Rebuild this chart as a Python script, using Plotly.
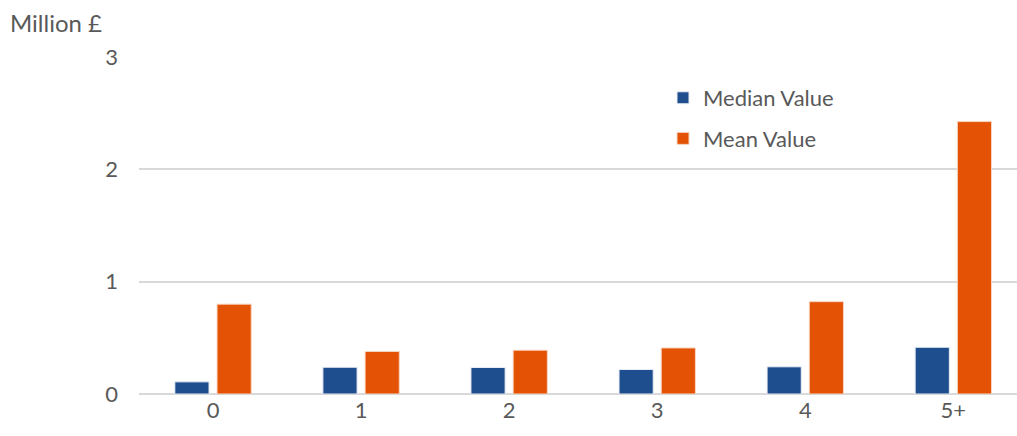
import plotly.graph_objects as go

categories = ["0", "1", "2", "3", "4", "5+"]
median_values = [0.108, 0.238, 0.236, 0.218, 0.242, 0.416]
mean_values = [0.80, 0.378, 0.39, 0.41, 0.822, 2.425]
y_ticks = [0, 1, 2, 3]
y_tick_labels = ["0", "1", "2", "3"]

FONT = "Lato"
TEXT = "#595959"

fig = go.Figure()
fig.add_trace(go.Bar(
    x=categories, y=median_values, name="Median Value",
    marker=dict(color="#1F4E8F", line=dict(color="#E8ECF3", width=1)),
    legendgroup="a",
))
fig.add_trace(go.Bar(
    x=categories, y=mean_values, name="Mean Value",
    marker=dict(color="#E35205", line=dict(color="#F8D6C3", width=1)),
    legendgroup="b",
))

fig.update_layout(
    width=1017, height=436,
    margin=dict(l=139, r=0, t=57, b=41.5),
    paper_bgcolor="white", plot_bgcolor="white",
    barmode="group", bargap=0.43, bargroupgap=0.19,
    font=dict(family=FONT, size=22, color=TEXT),
    showlegend=True,
    legend=dict(
        x=(663 - 139) / 878, y=(394.5 - 77) / 337.5, xanchor="left", yanchor="top",
        font=dict(family=FONT, size=22, color=TEXT),
        traceorder="grouped", tracegroupgap=9,
        bgcolor="rgba(0,0,0,0)", itemwidth=30,
    ),
    xaxis=dict(
        range=[-0.5, 5.43], showgrid=False, showline=False, zeroline=False,
        tickfont=dict(family=FONT, size=22, color=TEXT),
        ticks="", ticklabelstandoff=1,
    ),
    yaxis=dict(
        range=[0, 3], tickvals=y_ticks, ticktext=y_tick_labels,
        showgrid=True, gridcolor="#D9D9D9", gridwidth=1.5,
        zeroline=True, zerolinecolor="#D9D9D9", zerolinewidth=2,
        showline=False, ticks="",
        tickfont=dict(family=FONT, size=22, color=TEXT),
        ticklabelstandoff=20,
    ),
    annotations=[dict(
        text="Million £", xref="paper", yref="paper",
        x=(8 - 139) / 878, y=(394.5 - 22) / 337.5,
        xanchor="left", yanchor="middle", showarrow=False,
        font=dict(family=FONT, size=24, color=TEXT),
    )],
)

fig.write_html("out.html")
